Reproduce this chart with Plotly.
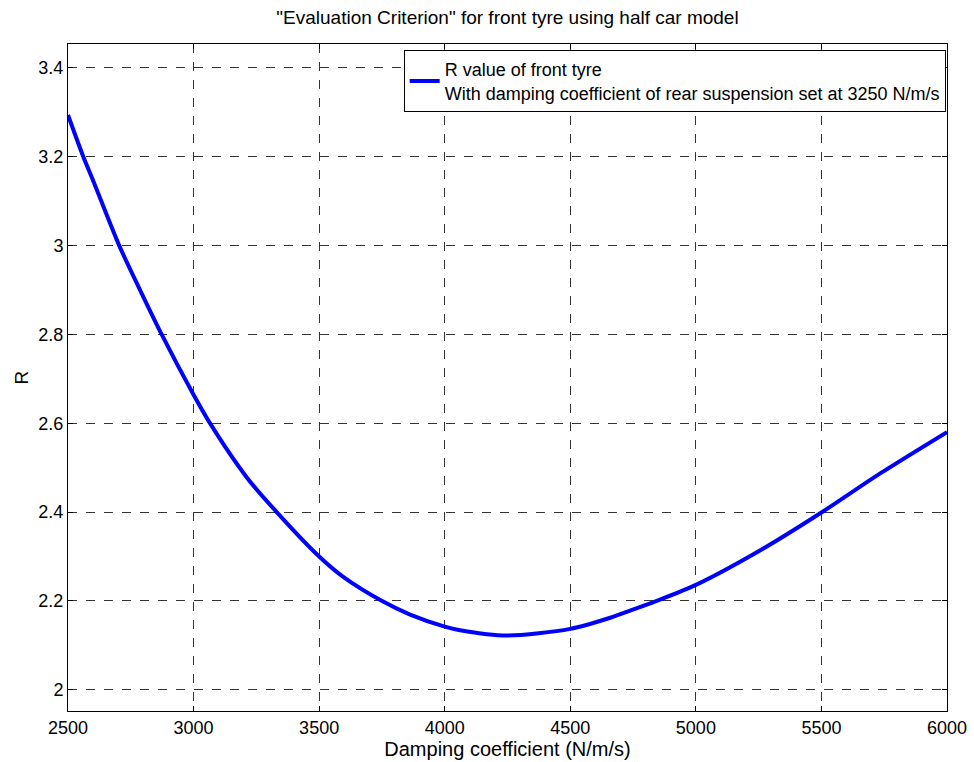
import plotly.graph_objects as go

damping = [2500, 2561, 2601, 2704, 2787, 2873, 3000, 3062, 3212, 3331, 3500, 3596, 3749,
           3862, 4000, 4061, 4247, 4500, 4659, 4738, 4844, 5000, 5269, 5500, 5734, 6000]
r_value = [3.294, 3.200, 3.145, 3.000, 2.900, 2.800, 2.664, 2.603, 2.478, 2.400, 2.300, 2.254, 2.200,
           2.169, 2.142, 2.134, 2.122, 2.137, 2.162, 2.178, 2.200, 2.236, 2.318, 2.399, 2.487, 2.580]

x_ticks = [2500, 3000, 3500, 4000, 4500, 5000, 5500, 6000]
y_ticks = [2, 2.2, 2.4, 2.6, 2.8, 3, 3.2, 3.4]
y_tick_text = ["2", "2.2", "2.4", "2.6", "2.8", "3", "3.2", "3.4"]

FONT = "Liberation Sans, Arial, Helvetica, sans-serif"

fig = go.Figure()
fig.add_trace(go.Scatter(
    x=damping, y=r_value, mode="lines",
    line=dict(color="#0000ff", width=4, shape="spline", smoothing=0.8),
    name="R value of front tyre<br>With damping coefficient of rear suspension set at 3250 N/m/s",
    showlegend=True,
))

axis_common = dict(
    showline=True, linecolor="black", linewidth=1, mirror="ticks",
    ticks="inside", ticklen=5, tickcolor="black",
    showgrid=True, gridcolor="#333333", gridwidth=1, griddash="dash",
    zeroline=False, automargin=False,
    tickfont=dict(family=FONT, size=18, color="black"),
)

fig.update_layout(
    width=974, height=762,
    margin=dict(l=68, r=27, t=44, b=51),
    paper_bgcolor="white", plot_bgcolor="white",
    title=dict(text='"Evaluation Criterion" for front tyre using half car model',
               x=(68 + 947) / 2 / 974, xanchor="center", y=1 - 17 / 762, yanchor="middle",
               font=dict(family=FONT, size=19, color="black")),
    xaxis=dict(range=[2500, 6000], tickvals=x_ticks,
               title=dict(text="Damping coefficient (N/m/s)", standoff=2,
                          font=dict(family=FONT, size=20, color="black")),
               **axis_common),
    yaxis=dict(range=[1.952, 3.454], tickvals=y_ticks, ticktext=y_tick_text,
               title=dict(text="R", standoff=4,
                          font=dict(family=FONT, size=19, color="black")),
               **axis_common),
    legend=dict(x=0.9985, xanchor="right", y=0.991, yanchor="top",
                bgcolor="white", bordercolor="black", borderwidth=1,
                font=dict(family=FONT, size=18, color="black"),
                itemwidth=30, tracegroupgap=0),
    showlegend=True,
)

fig.write_html("out.html")
